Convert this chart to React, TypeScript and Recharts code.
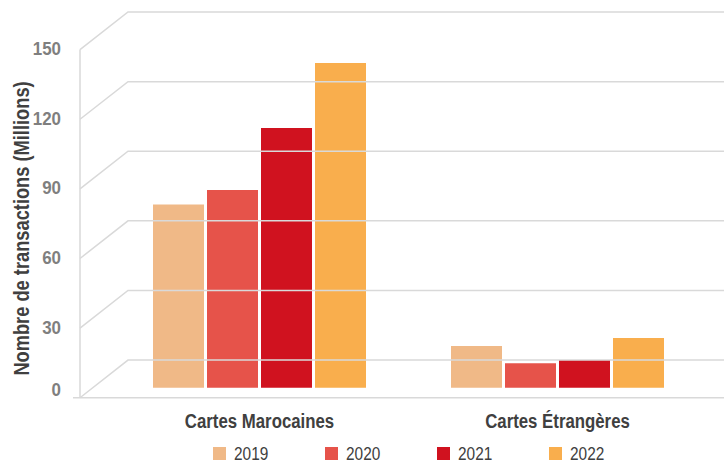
import { ComposedChart, Bar, Line, XAxis, YAxis } from 'recharts';

document.body.style.margin = '0';

const categories = ['Cartes Marocaines', 'Cartes Étrangères'];
const years = ['2019', '2020', '2021', '2022'];
const values2019 = [79, 18];
const values2020 = [85.2, 10.6];
const values2021 = [111.9, 12];
const values2022 = [139.9, 21.4];
const yTicks = [0, 30, 60, 90, 120, 150];
const colors = ['#F0B987', '#E6534A', '#D0121F', '#F9AE4D'];

const series = [values2019, values2020, values2021, values2022];
const data = categories.map((name, i) => {
  const row: Record<string, string | number> = { name };
  years.forEach((y, k) => {
    row[y] = series[k][i];
  });
  return row;
});

// fake 3D box: the front edge of the wall sits a bit below the bar baseline,
// the back edge a bit above it (values in data units)
const FRONT = -4.3;
const BACK = 11.9;
const PAD = 2;
const WALL = 48;
const DEPTH_MAX = 644;
const TOP = yTicks[yTicks.length - 1];

const gridLines = yTicks.map((t) => [
  { d: 0, g: t + FRONT },
  { d: WALL, g: t + BACK },
  { d: DEPTH_MAX, g: t + BACK },
]);
const wallEdge = [
  { d: 0, g: FRONT },
  { d: 0, g: TOP + FRONT },
];
const floorFront = [
  { d: -7, g: FRONT },
  { d: DEPTH_MAX, g: FRONT },
];

const FONT = "'Liberation Sans', Arial, sans-serif";
const GRID = '#d9d9d9';
const DARK = '#404040';

function YTick({ x, y, payload }: any) {
  const dy = payload.value === 0 ? -1.7 : 5.5;
  return (
    <text
      transform={`translate(${x}, ${y + dy}) scale(0.91, 1)`}
      textAnchor="end"
      fill="#7f7f7f"
      fontFamily={FONT}
      fontWeight={700}
      fontSize={18.6}
    >
      {payload.value}
    </text>
  );
}

function XTick({ x, y, payload }: any) {
  return (
    <text
      transform={`translate(${x}, ${y + 25.3}) scale(0.8, 1)`}
      textAnchor="middle"
      fill={DARK}
      fontFamily={FONT}
      fontWeight={700}
      fontSize={21}
    >
      {payload.value}
    </text>
  );
}

function AxisTitle() {
  return (
    <text
      transform="translate(29, 228.5) rotate(-90) scale(0.85, 1)"
      textAnchor="middle"
      fill={DARK}
      fontFamily={FONT}
      fontWeight={700}
      fontSize={21.5}
    >
      Nombre de transactions (Millions)
    </text>
  );
}

const lineProps = {
  dataKey: 'g',
  xAxisId: 'depth',
  yAxisId: 'v',
  type: 'linear' as const,
  dot: false,
  activeDot: false,
  stroke: GRID,
  strokeWidth: 1.5,
  isAnimationActive: false,
  legendType: 'none' as const,
};

export default function App() {
  return (
    <div style={{ position: 'relative', width: 724, height: 463, background: '#fff' }}>
      <ComposedChart
        width={724}
        height={463}
        data={data}
        margin={{ top: 7.36, right: 0, bottom: 30.64, left: 0 }}
        barCategoryGap={42.5}
        barGap={3}
      >
        <XAxis
          xAxisId="cat"
          dataKey="name"
          padding={{ left: 40.5, right: 17.5 }}
          axisLine={false}
          tickLine={false}
          tickSize={0}
          tickMargin={0}
          height={30}
          tick={<XTick />}
        />
        <XAxis xAxisId="depth" dataKey="d" type="number" domain={[-10, DEPTH_MAX]} allowDataOverflow hide />
        <YAxis
          yAxisId="front"
          width={70}
          domain={[-PAD, TOP + BACK - FRONT + PAD]}
          ticks={yTicks}
          interval={0}
          allowDataOverflow
          axisLine={false}
          tickLine={false}
          tickSize={0}
          tickMargin={9}
          tick={<YTick />}
          label={<AxisTitle />}
        />
        <YAxis yAxisId="v" domain={[FRONT - PAD, TOP + BACK + PAD]} allowDataOverflow hide />

        {gridLines.map((pts, i) => (
          <Line key={`grid-${i}`} data={pts} {...lineProps} />
        ))}
        <Line data={wallEdge} {...lineProps} />
        <Line data={floorFront} {...lineProps} />

        {years.map((y, k) => (
          <Bar key={y} dataKey={y} xAxisId="cat" yAxisId="v" fill={colors[k]} isAnimationActive={false} />
        ))}
      </ComposedChart>

      <div style={{ position: 'absolute', left: 213.3, top: 443.7, display: 'flex' }}>
        {years.map((y, k) => (
          <div key={y} style={{ width: 112, height: 20, display: 'flex', alignItems: 'center' }}>
            <span style={{ width: 12.5, height: 12.5, background: colors[k], marginRight: 8 }} />
            <span
              style={{
                fontFamily: FONT,
                fontSize: 17.5,
                color: DARK,
                lineHeight: '20px',
                display: 'inline-block',
                transform: 'scaleX(0.88)',
                transformOrigin: 'left center',
              }}
            >
              {y}
            </span>
          </div>
        ))}
      </div>
    </div>
  );
}
